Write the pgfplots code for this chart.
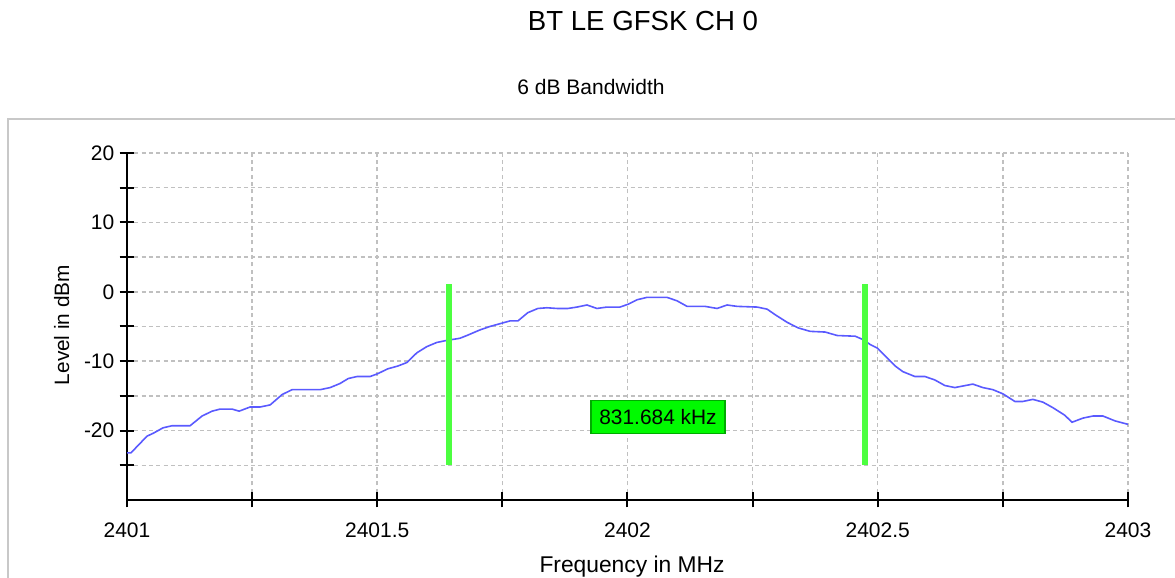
\documentclass[border=0pt]{standalone}
\usepackage{pgfplots}
\pgfplotsset{compat=1.18}
\usepackage{fontspec}
\setmainfont{Liberation Sans}
\definecolor{curveblue}{RGB}{90,90,255}
\definecolor{markgreen}{RGB}{76,255,64}
\definecolor{gridgray}{RGB}{192,192,192}
\definecolor{framegray}{RGB}{200,200,200}
\begin{document}
\begin{tikzpicture}[x=1pt,y=1pt]
\useasboundingbox (0,0) rectangle (1175,578);
\draw[framegray, line width=1.5pt] (8,-10) rectangle (1190,459);
\node[anchor=base, inner sep=0pt, font=\fontsize{27.6}{30}\selectfont] at (643,547.3) {BT LE GFSK CH 0};
\node[anchor=base, inner sep=0pt, font=\fontsize{21}{24}\selectfont] at (591,483) {6 dB Bandwidth};
\node[rotate=90, inner sep=0pt, font=\fontsize{20.8}{24}\selectfont] at (61.7,253) {Level in dBm};
\node[anchor=base, inner sep=0pt, font=\fontsize{22.8}{26}\selectfont] at (632,5) {Frequency in MHz};
\begin{axis}[
  at={(127pt,78pt)}, anchor=south west,
  scale only axis, width=1001pt, height=347pt,
  xmin=2401, xmax=2403, ymin=-30, ymax=20,
  axis x line*=bottom, axis y line*=left,
  axis line style={black, line width=2pt},
  xtick={2401,2401.5,2402,2402.5,2403},
  xticklabels={2401,2401.5,2402,2402.5,2403},
  minor xtick={2401.25,2401.75,2402.25,2402.75},
  ytick={-20,-10,0,10,20},
  yticklabels={-20,-10,0,10,20},
  minor ytick={-25,-15,-5,5,15},
  tick align=center,
  major tick length=15pt, minor tick length=15pt,
  every tick/.style={black, line width=2pt},
  every minor tick/.style={black, line width=2pt},
  grid=both,
  major grid style={gridgray, line width=1.5pt, dash pattern=on 4pt off 3.3pt},
  minor grid style={gridgray, line width=1.5pt, dash pattern=on 4pt off 3.3pt},
  xticklabel style={anchor=base, inner sep=0pt, yshift=-30pt, font=\fontsize{21}{21}\selectfont},
  yticklabel style={anchor=east, inner sep=0pt, xshift=-5pt, font=\fontsize{21}{21}\selectfont},
]
\addplot[curveblue, line width=1.6pt] coordinates {
(2401.000,-23.2) (2401.008,-23.2) (2401.040,-20.8) (2401.052,-20.4)
(2401.072,-19.6) (2401.090,-19.3) (2401.126,-19.3) (2401.150,-17.9)
(2401.170,-17.2) (2401.186,-16.9) (2401.210,-16.9) (2401.224,-17.2)
(2401.246,-16.6) (2401.266,-16.6) (2401.286,-16.3) (2401.310,-14.8)
(2401.330,-14.1) (2401.386,-14.1) (2401.406,-13.8) (2401.426,-13.2)
(2401.442,-12.5) (2401.460,-12.2) (2401.486,-12.2) (2401.501,-11.8)
(2401.521,-11.1) (2401.541,-10.7) (2401.559,-10.2) (2401.579,-8.8)
(2401.599,-7.9) (2401.619,-7.3) (2401.639,-7.0) (2401.665,-6.7)
(2401.679,-6.3) (2401.705,-5.5) (2401.725,-5.0) (2401.745,-4.6)
(2401.765,-4.2) (2401.781,-4.2) (2401.801,-3.0) (2401.821,-2.4)
(2401.839,-2.3) (2401.859,-2.4) (2401.881,-2.4) (2401.899,-2.2)
(2401.919,-1.9) (2401.939,-2.4) (2401.959,-2.2) (2401.985,-2.2)
(2402.001,-1.8) (2402.019,-1.15) (2402.039,-0.8) (2402.079,-0.8)
(2402.099,-1.3) (2402.119,-2.1) (2402.155,-2.1) (2402.179,-2.4)
(2402.199,-1.9) (2402.219,-2.1) (2402.259,-2.2) (2402.279,-2.5)
(2402.295,-3.3) (2402.319,-4.4) (2402.341,-5.2) (2402.365,-5.7)
(2402.395,-5.8) (2402.419,-6.3) (2402.455,-6.4) (2402.471,-6.9)
(2402.485,-7.6) (2402.499,-8.1) (2402.521,-9.7) (2402.535,-10.7)
(2402.550,-11.5) (2402.574,-12.2) (2402.594,-12.2) (2402.614,-12.7)
(2402.634,-13.5) (2402.654,-13.8) (2402.690,-13.3) (2402.710,-13.8)
(2402.730,-14.1) (2402.750,-14.7) (2402.774,-15.8) (2402.790,-15.8)
(2402.810,-15.5) (2402.830,-15.9) (2402.850,-16.7) (2402.874,-17.8)
(2402.888,-18.8) (2402.910,-18.2) (2402.930,-17.9) (2402.950,-17.9)
(2402.974,-18.6) (2403.000,-19.1)
};
\addplot[markgreen, line width=6.3pt] coordinates {(2401.6435,1.1) (2401.6435,-25)};
\addplot[markgreen, line width=6.3pt] coordinates {(2402.4752,1.1) (2402.4752,-25)};
\node[fill={rgb,255:red,0;green,250;blue,0}, draw={rgb,255:red,0;green,170;blue,0}, line width=1.2pt,
  minimum width=134pt, minimum height=33pt, inner sep=0pt, font=\fontsize{20.9}{22}\selectfont]
  at (axis cs:2402.061,-18.0) {831.684 kHz};
\end{axis}
\end{tikzpicture}
\end{document}
